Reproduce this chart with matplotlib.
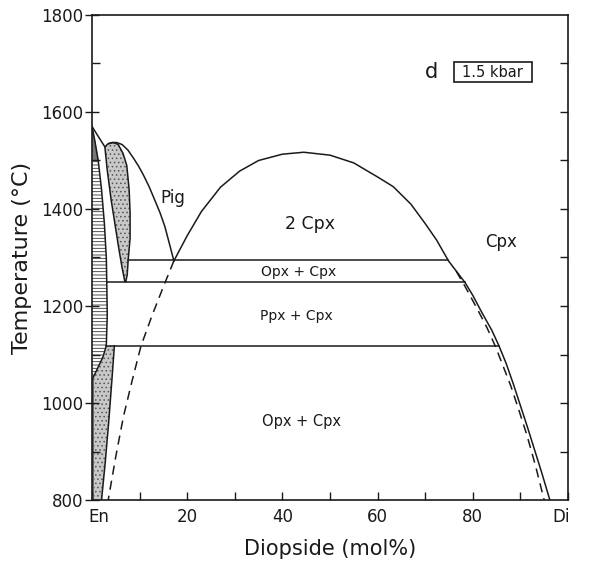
import matplotlib.pyplot as plt
import matplotlib.transforms as mtransforms
from matplotlib.patches import Rectangle
import numpy as np

# En-Di pyroxene phase relations at 1.5 kbar (x = mol% Di, y = T in deg C)

# Cpx solvus (solid) from the pigeonite eutectoid up over the crest and down to Di side
cpx_x = [17.2, 20, 23, 27, 31, 35, 40, 44.5, 50, 55, 60, 63.3, 67, 70, 72.4, 74.9,
         78.4, 80, 82, 84, 85.5, 87, 88.5, 90, 91.5, 93, 94.5, 96.2]
cpx_t = [1293, 1345, 1395, 1445, 1478, 1500, 1513, 1517, 1511, 1495, 1466, 1446, 1410,
         1370, 1336, 1293, 1248, 1222, 1185, 1150, 1118, 1082, 1040, 995, 950, 903, 856, 800]

# metastable solvus extensions (dashed)
dash_left_x = [17.2, 15.0, 12.6, 10.3, 8.4, 6.6, 5.0, 3.4]
dash_left_t = [1293, 1240, 1180, 1118, 1045, 972, 890, 800]
dash_right_x = [76.5, 78.4, 81, 83, 84.7, 86.3, 88, 89.7, 91.4, 93.2, 95]
dash_right_t = [1272, 1240, 1193, 1155, 1118, 1078, 1035, 985, 933, 870, 800]

# pigeonite field outer boundary
pig_x = [0, 2.7, 3.3, 4.2, 5.2, 6.3, 7.5, 8.7, 9.8, 10.8, 12.0, 13.2, 14.3, 15.3, 16.3, 17.2]
pig_t = [1570, 1528, 1534, 1537, 1537, 1533, 1522, 1505, 1488, 1470, 1446, 1418, 1392,
         1364, 1327, 1293]

# protoenstatite lens (hatched)
pen_x = [0, 0.6, 1.3, 2.0, 2.6, 3.0, 3.1, 3.2, 3.0, 2.3, 1.0, 0]
pen_t = [1570, 1540, 1500, 1440, 1370, 1300, 1250, 1180, 1118, 1095, 1068, 1048]

# Pen + Pig loop (stippled), left and right limbs
loop_left_x = [2.7, 3.2, 4.0, 4.8, 5.6, 6.3, 6.9]
loop_left_t = [1528, 1480, 1420, 1370, 1320, 1280, 1250]
loop_right_x = [7.1, 7.4, 7.6, 8.0, 8.0, 7.8, 7.3, 6.5, 5.5, 4.5, 3.5]
loop_right_t = [1250, 1265, 1295, 1340, 1392, 1440, 1490, 1515, 1533, 1537, 1535]

# Opx + Pen loop at low temperature
low_x = [4.7, 4.2, 3.5, 2.8, 2.0]
low_t = [1118, 1050, 960, 880, 800]

# three-phase isotherms: (T, x_start, x_end)
iso_t = [1295, 1250, 1118]
iso_x0 = [7.6, 3.1, 3.0]
iso_x1 = [74.9, 78.4, 85.5]

field_labels = ["Pig", "2 Cpx", "Cpx", "Opx + Cpx", "Ppx + Cpx", "Opx + Cpx"]
field_x = [17, 45.8, 86, 43.5, 43, 44]
field_t = [1423, 1369, 1332, 1270, 1179, 961]
field_size = [12, 12.5, 12, 10, 10, 10.5]

xticks_major = [0, 20, 40, 60, 80, 100]
xtick_labels = ["En", "20", "40", "60", "80", "Di"]

ink = "#1a1a1a"
lw = 1.1

plt.rcParams["hatch.linewidth"] = 0.6

fig = plt.figure(figsize=(5.91, 5.65), dpi=100)
ax = fig.add_axes([0.1557, 0.115, 0.8053, 0.8585])
ax.set_xlim(0, 100)
ax.set_ylim(800, 1800)

# shaded fields
ax.fill(pen_x, pen_t, facecolor="white", edgecolor="#333333", hatch="-----", lw=0)
ax.fill_betweenx([1570, 1540, 1500], 0, [0, 0.6, 1.3], color="#777777", lw=0)
loop_x = loop_left_x + loop_right_x
loop_t = loop_left_t + loop_right_t
ax.fill(loop_x, loop_t, facecolor="#c8c8c8", edgecolor="#555555", hatch="....", lw=0)
low_poly_x = [0, 1.0, 2.3, 3.0] + low_x + [0.4, 0.4]
low_poly_t = [1048, 1068, 1095, 1118] + low_t + [800, 1040]
ax.fill(low_poly_x, low_poly_t, facecolor="#c8c8c8", edgecolor="#555555", hatch="....", lw=0)
ax.fill_betweenx([800, 1048], 0, 0.4, color="#666666", lw=0)

# boundaries
ax.plot(cpx_x, cpx_t, color=ink, lw=lw)
ax.plot(pig_x, pig_t, color=ink, lw=lw)
ax.plot(pen_x, pen_t, color=ink, lw=lw)
ax.plot(loop_x, loop_t, color=ink, lw=lw)
ax.plot(low_x, low_t, color=ink, lw=lw)
ax.plot(dash_left_x, dash_left_t, color=ink, lw=lw, dashes=(6, 4))
ax.plot(dash_right_x, dash_right_t, color=ink, lw=lw, dashes=(6, 4))
for t, x0, x1 in zip(iso_t, iso_x0, iso_x1):
    ax.plot([x0, x1], [t, t], color=ink, lw=lw)

for s, x, t, fs in zip(field_labels, field_x, field_t, field_size):
    ax.text(x, t, s, ha="center", va="center", fontsize=fs, color=ink)

ax.text(71.4, 1682, "d", ha="center", va="center", fontsize=15, color=ink)
ax.add_patch(Rectangle((76.1, 1662), 16.3, 41, facecolor="white", edgecolor=ink, lw=1.2))
ax.text(84.2, 1682, "1.5 kbar", ha="center", va="center", fontsize=10.5, color=ink)

# axes styling
for sp in ax.spines.values():
    sp.set_linewidth(1.2)
    sp.set_color(ink)

ax.set_xticks(xticks_major)
ax.set_xticklabels(xtick_labels)
ax.set_xticks(np.arange(10, 100, 20), minor=True)
ax.set_yticks(np.arange(800, 1801, 200))
ax.set_yticks(np.arange(900, 1800, 200), minor=True)
ax.tick_params(axis="x", which="both", direction="in", length=6, width=1,
               labelsize=12, pad=6, colors=ink)
ax.tick_params(axis="y", which="major", direction="inout", length=10, width=1,
               labelsize=12, pad=1.5, colors=ink)
ax.tick_params(axis="y", which="minor", direction="in", length=6, width=1, colors=ink)

# right-hand ticks every 100 degrees, pointing inward
axr = ax.twinx()
axr.set_ylim(800, 1800)
axr.set_yticks(np.arange(900, 1800, 100))
axr.tick_params(axis="y", direction="in", length=6, width=1, labelright=False, colors=ink)
for sp in axr.spines.values():
    sp.set_visible(False)

labels = ax.get_xticklabels()
offset = mtransforms.ScaledTranslation(7 / 100, 0, fig.dpi_scale_trans)
labels[0].set_transform(labels[0].get_transform() + offset)
labels[-1].set_transform(labels[-1].get_transform() - offset)

ax.set_xlabel("Diopside (mol%)", fontsize=15, labelpad=9, color=ink)
ax.set_ylabel("Temperature (°C)", fontsize=16, labelpad=6, color=ink)

fig.savefig("out.png", dpi=100, facecolor="white")
